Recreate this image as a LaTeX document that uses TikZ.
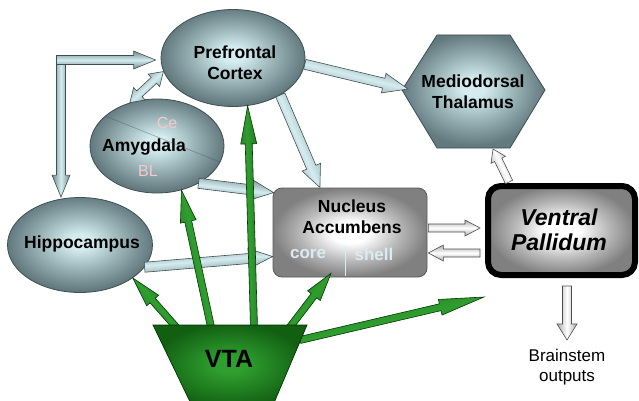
\documentclass[tikz,border=0pt]{standalone}
\usepackage{fontspec}
\setmainfont{Liberation Sans}
\usetikzlibrary{calc,shapes.geometric}
\definecolor{tealin}{HTML}{D4ECEF}
\definecolor{tealmid}{HTML}{9AB4B8}
\definecolor{tealout}{HTML}{62797E}
\definecolor{tealedge}{HTML}{3E4F53}
\definecolor{grayin}{HTML}{FFFFFF}
\definecolor{graymid}{HTML}{B8B8B8}
\definecolor{grayout}{HTML}{808080}
\definecolor{greenin}{HTML}{2E9E2E}
\definecolor{greenout}{HTML}{125F12}
\definecolor{pinktxt}{HTML}{F5C9C9}
\definecolor{bluetxt}{HTML}{DCEBF3}
\pgfdeclareradialshading{tealball}{\pgfpoint{0bp}{2bp}}{color(0bp)=(tealin); color(4bp)=(tealin); color(14bp)=(tealmid); color(25bp)=(tealout); color(50bp)=(tealout)}
\pgfdeclareradialshading{grayball}{\pgfpoint{0bp}{0bp}}{color(0bp)=(grayin); color(6bp)=(grayin); color(16bp)=(graymid); color(25bp)=(grayout); color(50bp)=(grayout)}
\pgfdeclareradialshading{greenball}{\pgfpoint{0bp}{2bp}}{color(0bp)=(greenin); color(5bp)=(greenin); color(25bp)=(greenout); color(50bp)=(greenout)}
% block arrow: [style]{from}{to}{shaft half}{head half}{head length}
\newcommand\barrow[6][]{%
  \path let \p1=#2, \p2=#3 in \pgfextra{%
    \pgfmathsetmacro\baang{atan2(\y2-\y1,\x2-\x1)}%
    \pgfmathsetmacro\balen{veclen(\x2-\x1,\y2-\y1)}%
    \xdef\baa{\baang}\xdef\bal{\balen}\xdef\bax{\x1}\xdef\bay{\y1}};
  \draw[#1,shading angle=\baa,shift={(\bax,\bay)},rotate=\baa]
    (0pt,-#4) -- ({\bal pt-#6},-#4) -- ({\bal pt-#6},-#5) -- (\bal pt,0pt)
    -- ({\bal pt-#6},#5) -- ({\bal pt-#6},#4) -- (0pt,#4) -- cycle;}
% double headed block arrow
\newcommand\dbarrow[6][]{%
  \path let \p1=#2, \p2=#3 in \pgfextra{%
    \pgfmathsetmacro\baang{atan2(\y2-\y1,\x2-\x1)}%
    \pgfmathsetmacro\balen{veclen(\x2-\x1,\y2-\y1)}%
    \xdef\baa{\baang}\xdef\bal{\balen}\xdef\bax{\x1}\xdef\bay{\y1}};
  \draw[#1,shading angle=\baa,shift={(\bax,\bay)},rotate=\baa]
    (0pt,0pt) -- (#6,-#5) -- (#6,-#4) -- ({\bal pt-#6},-#4) -- ({\bal pt-#6},-#5) -- (\bal pt,0pt)
    -- ({\bal pt-#6},#5) -- ({\bal pt-#6},#4) -- (#6,#4) -- (#6,#5) -- cycle;}
\begin{document}
\begin{tikzpicture}[x=1pt,y=-1pt,
  region/.style={ellipse,shade,shading=tealball,draw=tealedge,line width=0.8pt,inner sep=0pt},
  hexa/.style={shade,shading=tealball,draw=tealedge,line width=0.8pt},
  nacbox/.style={rectangle,rounded corners=9pt,shade,shading=grayball,draw=gray!70!black,line width=0.8pt,inner sep=0pt,minimum width=154pt,minimum height=89pt},
  vpbox/.style={rectangle,rounded corners=13pt,shade,shading=grayball,draw=black,line width=6pt,inner sep=0pt,minimum width=147pt,minimum height=89pt},
  vtashape/.style={shade,shading=greenball},
  lab/.style={font=\fontsize{17.5}{21}\selectfont\bfseries,align=center,inner sep=0pt},
  sublab/.style={font=\fontsize{16}{18}\selectfont,inner sep=0pt},
  bluearr/.style={top color=tealout!90,bottom color=tealout!90,middle color=tealin,draw=tealedge,line width=0.6pt},
  whitearr/.style={top color=gray!65,bottom color=gray!65,middle color=white,draw=black!70,line width=0.6pt},
  greenarr/.style={top color=greenout!90,bottom color=greenout!90,middle color=greenin,draw=black!55!green!50!black,line width=0.6pt}]
\useasboundingbox (0,0) rectangle (639,401);
\clip (0,0) rectangle (639,401);

% shapes
\node[region,minimum width=144pt,minimum height=97pt] (pfc) at (233,58) {};
\node[region,minimum width=134pt,minimum height=94pt,
  path picture={\draw[tealedge,opacity=.45,line width=0.6pt] ($(path picture bounding box.center)+(-52,-30)$) -- ($(path picture bounding box.center)+(68,18)$);}] (amy) at (157,146) {};
\node[region,minimum width=145pt,minimum height=95pt] (hip) at (80,245) {};
\path[hexa] (402,90) -- (437,35) -- (510,35) -- (545,90) -- (510,148) -- (437,148) -- cycle;
\node[nacbox] (nac) at (350,232.5) {};
\node[vpbox] (vp) at (561.5,230.5) {};

% labels
\node[lab] (pfct) at (235,63) {Prefrontal\\Cortex};
\node[lab] (amyt) at (144,147) {Amygdala};
\node[sublab,text=pinktxt] (ce) at (167,123) {Ce};
\node[sublab,text=pinktxt] (bl) at (148,171) {BL};
\node[lab] (hipt) at (82,244) {Hippocampus};
\node[lab] (md) at (473,92) {Mediodorsal\\Thalamus};
\node[lab] (nact) at (352,217) {Nucleus\\Accumbens};
\node[sublab,text=bluetxt,font=\fontsize{17}{18}\selectfont\bfseries] (core) at (308,254) {core};
\node[sublab,text=bluetxt,font=\fontsize{17}{18}\selectfont\bfseries] (shell) at (374,254) {shell};
\draw[bluetxt,line width=0.8pt] ($(nac.south)+(-5,-30)$) coordinate (divtop) -- ($(nac.south)+(-5,-1)$) coordinate (divbot);
\node[lab,font=\fontsize{23}{25}\selectfont\bfseries\itshape] (vpt) at (559,230) {Ventral\\Pallidum};
\node[font=\fontsize{17}{20}\selectfont,align=center,inner sep=0pt] (bs) at (567,367) {Brainstem\\outputs};

% blue-gray block arrows
\coordinate (lc) at (61,60);
\barrow[bluearr]{($(lc)+(0,-4.5)$)}{(hip.north -| lc)}{4.5pt}{9pt}{22pt}
\barrow[bluearr]{($(lc)+(-4.5,0)$)}{($(pfc.west)+(-5,2)$)}{4.5pt}{9pt}{22pt}
\dbarrow[bluearr]{(amy.122)}{(pfc.191)}{4pt}{8.5pt}{13pt}
\barrow[bluearr]{(pfc.-5)}{($(md.center)+(-65,-3)$)}{5pt}{10pt}{25pt}
\barrow[bluearr]{(pfc.-38)}{($(nac.north)+(-30,0)$)}{5pt}{10pt}{22pt}
\barrow[bluearr]{(amy.-42)}{($(nac.north west)+(1,5)$)}{5pt}{10pt}{22pt}
\barrow[bluearr]{(hip.-19)}{($(nac.west)+(0,24)$)}{5pt}{10pt}{24pt}

% white block arrows
\barrow[whitearr]{($(nac.east)+(1,-4.5)$)}{($(vp.west)+(-5,-2.5)$)}{4pt}{8pt}{15pt}
\barrow[whitearr]{($(vp.west)+(-5,22.5)$)}{($(nac.east)+(1,20.5)$)}{4pt}{8pt}{15pt}
\barrow[whitearr]{($(vp.north west)+(24,-1)$)}{($(md.center)+(20,57)$)}{4pt}{8pt}{12pt}
\barrow[whitearr]{($(vp.south)+(5.5,8)$)}{($(bs.center)+(0,-27)$)}{4.5pt}{10pt}{16pt}

% green arrows from VTA
\coordinate (vtatl) at (153,325);
\coordinate (vtatr) at (307,325);
\barrow[greenarr]{($(vtatl)+(23,2)$)}{(hip.-32)}{3.5pt}{8pt}{30pt}
\barrow[greenarr]{($(vtatl)+(58,2)$)}{(amy.-61)}{3.5pt}{8pt}{32pt}
\barrow[greenarr]{($(vtatl)+(101,2)$)}{(pfc.-73)}{3.5pt}{8pt}{38pt}
\barrow[greenarr]{($(vtatr)+(-17,2)$)}{($(nac.south)+(-19,-4)$)}{3.5pt}{8pt}{28pt}
\barrow[greenarr]{($(vtatr)+(-7,15)$)}{($(vp.south west)+(-1,19)$)}{3.5pt}{8pt}{45pt}

% VTA
\path[vtashape] (vtatl) -- (vtatr) -- (271,410) -- (194,410) -- cycle;
\draw[black!50!green!40!black,line width=0.7pt] (194,410) -- (vtatl) -- (vtatr) -- (271,410);
\node[lab,font=\fontsize{25}{27}\selectfont\bfseries] (vta) at (229,359) {VTA};
\end{tikzpicture}
\end{document}
